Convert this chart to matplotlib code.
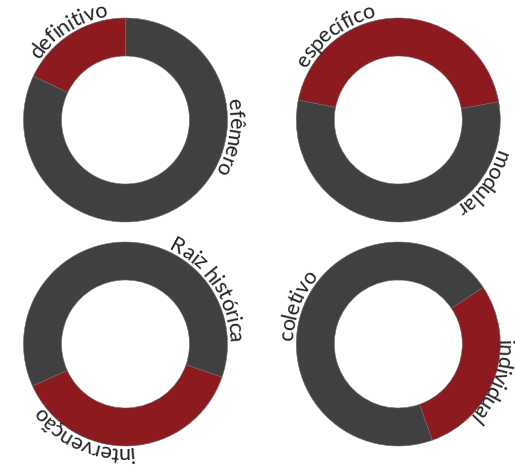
import matplotlib
matplotlib.use("Agg")
import matplotlib.pyplot as plt
import numpy as np
from matplotlib.font_manager import FontProperties, findfont, get_font

# share of each ring (red part / dark part), in percent
red_labels = ['definitivo', 'específico', 'intervenção', 'individual']
dark_labels = ['efêmero', 'modular', 'Raiz histórica', 'coletivo']
red_pct = [18, 44, 38, 29]
dark_pct = [82, 56, 62, 71]

RED = '#8c1a1f'
DARK = '#404040'
TXT = '#222222'

W, H = 515, 471
fig = plt.figure(figsize=(W / 100, H / 100), dpi=100)
ax = fig.add_axes([0, 0, 1, 1])

# layout in pixel units (y up)
centers = [(125.5, 351), (398.3, 351), (125.5, 127), (398.3, 127)]
start_angles = [154.6, 168.7, 341.1, 33.8]
red_label_ang = [123, 127, 247, -21]
dark_label_ang = [-9, -36, 33, 160]
red_label_gap = [3, 3, 3, 0]
dark_label_gap = [3, 3, 3, 3]
R_OUT, RING = 102, 38

fs = 15.5
prop = FontProperties(family='Lato', size=fs)
font = get_font(findfont(prop))
font.set_size(fs, 100)

# scratch canvas: Agg shifts single rotated glyphs a bit, measure and undo it
scratch = plt.figure(figsize=(1, 1), dpi=100)
sax = scratch.add_axes([0, 0, 1, 1])
sax.set_xlim(0, 100)
sax.set_ylim(0, 100)
sax.axis('off')
yy, xx = np.mgrid[0:100, 0:100]


def ink_centre(ch, rot):
    t = sax.text(50, 50, ch, fontproperties=prop, rotation=rot,
                 rotation_mode='anchor', ha='center', va='baseline')
    scratch.canvas.draw()
    img = np.asarray(scratch.canvas.buffer_rgba())[:, :, 0].astype(float)
    t.remove()
    ink = 255 - img
    s = ink.sum()
    cx = (ink * (xx + 0.5)).sum() / s - 50
    cy = (100 - (ink * (yy + 0.5)).sum() / s) - 50
    return np.array([cx, cy])


def shift_error(ch, rot):
    c0 = ink_centre(ch, 0)
    r = np.radians(rot)
    want = np.array([c0[0] * np.cos(r) - c0[1] * np.sin(r),
                     c0[0] * np.sin(r) + c0[1] * np.cos(r)])
    return ink_centre(ch, rot) - want


def curved_label(cx, cy, text, ang, r_base):
    # text reads clockwise, letters standing outward
    adv = np.array([font.load_char(ord(ch)).linearHoriAdvance / 65536 for ch in text])
    total = adv.sum()
    mids = np.cumsum(adv) - adv / 2
    r_arc = r_base + 0.3 * fs * 100 / 72
    for ch, m in zip(text, mids):
        if ch == ' ':
            continue
        th = ang - np.degrees((m - total / 2) / r_arc)
        t = np.radians(th)
        err = shift_error(ch, th - 90)
        ax.text(cx + r_base * np.cos(t) - err[0], cy + r_base * np.sin(t) - err[1], ch,
                fontproperties=prop, color=TXT, rotation=th - 90,
                rotation_mode='anchor', ha='center', va='baseline')


for k in range(4):
    cx, cy = centers[k]
    ax.pie([red_pct[k], dark_pct[k]], colors=[RED, DARK], center=(cx, cy),
           radius=R_OUT, startangle=start_angles[k], counterclock=False,
           wedgeprops=dict(width=RING, edgecolor='#6a6a6a', linewidth=0.4))
    curved_label(cx, cy, red_labels[k], red_label_ang[k], R_OUT + red_label_gap[k])
    curved_label(cx, cy, dark_labels[k], dark_label_ang[k], R_OUT + dark_label_gap[k])

ax.set_xlim(0, W)
ax.set_ylim(0, H)
ax.set_aspect('equal')
ax.axis('off')

fig.savefig('out.png', dpi=100, facecolor='white')
